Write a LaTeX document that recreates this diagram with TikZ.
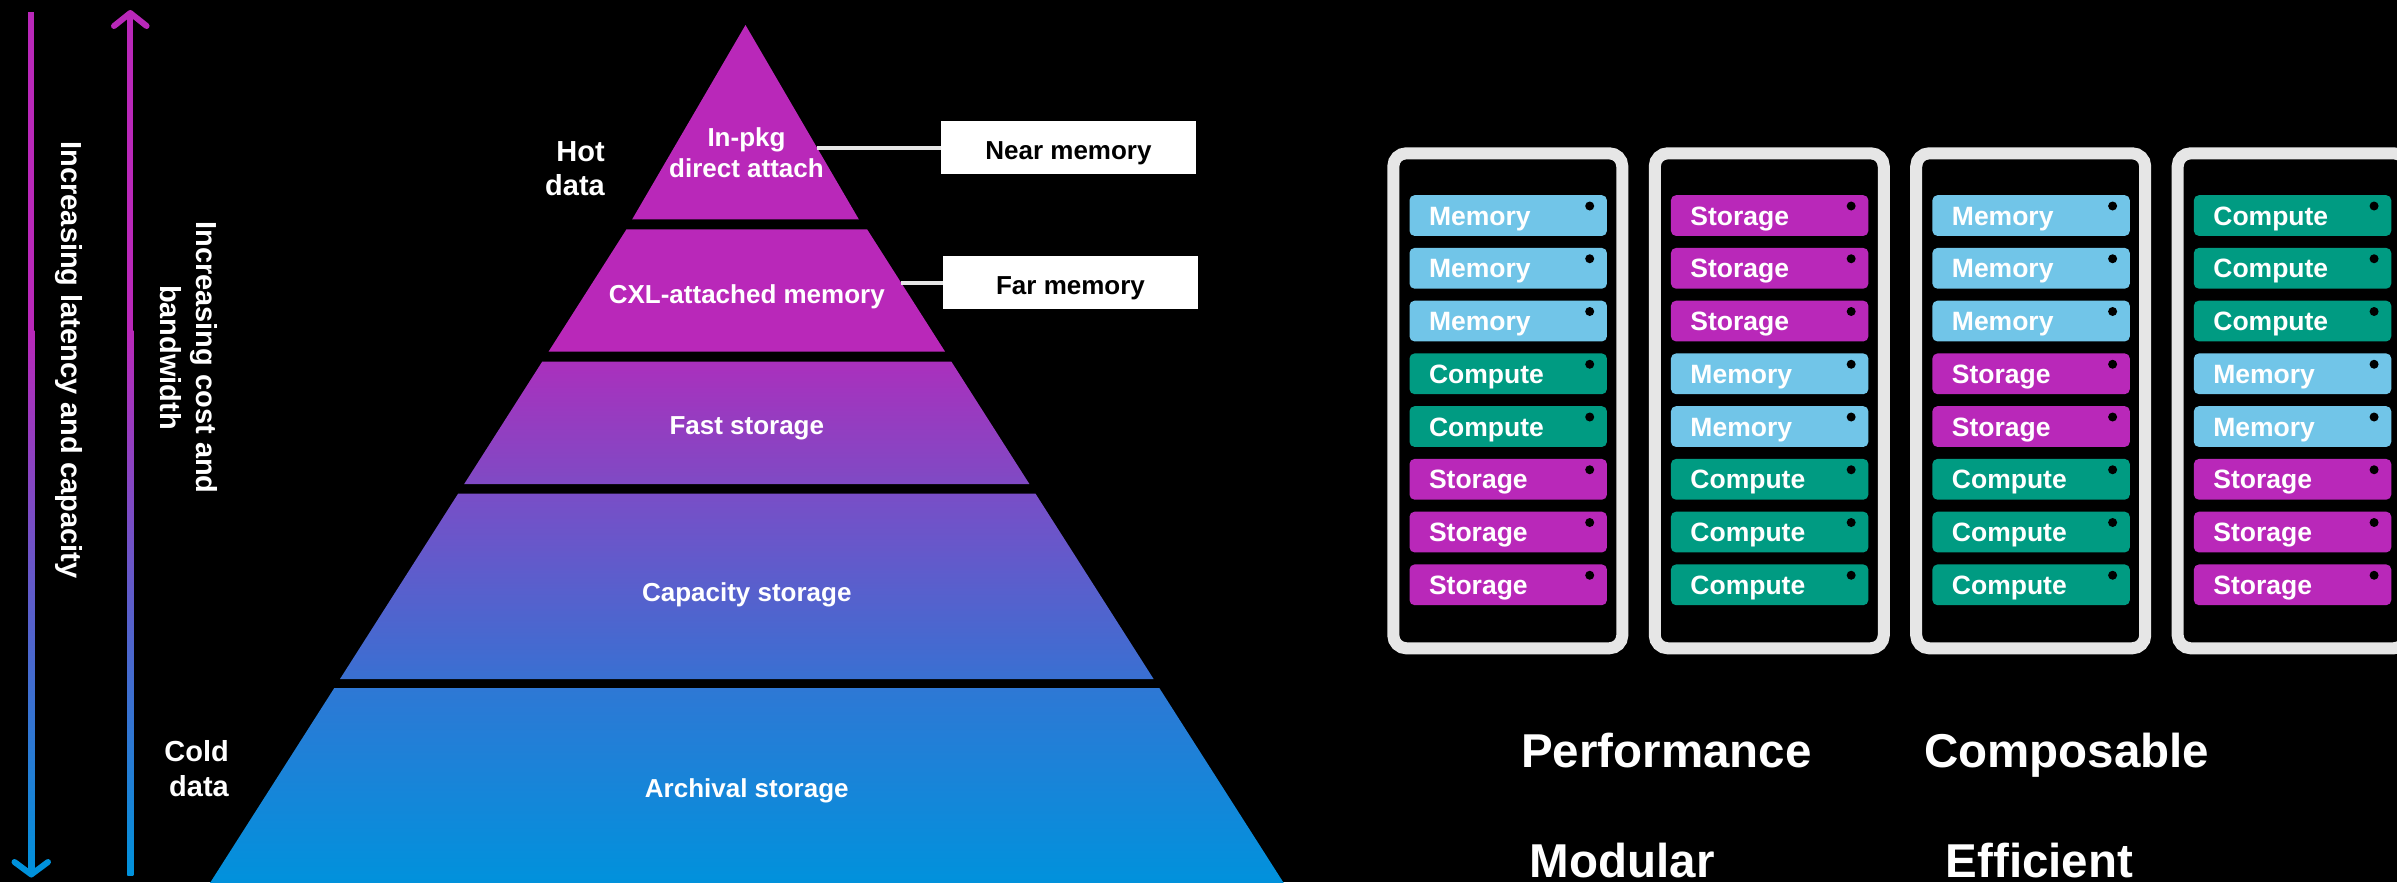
\documentclass[tikz,border=0pt]{standalone}
\usepackage{fontspec}
\setmainfont{Liberation Sans}
\usetikzlibrary{calc}
\definecolor{mag}{RGB}{185,40,185}
\definecolor{lblue}{RGB}{113,197,232}
\definecolor{compgreen}{RGB}{0,155,130}
\definecolor{blu}{RGB}{0,146,220}
\definecolor{rackgray}{RGB}{230,230,230}
\definecolor{tA}{RGB}{170,48,189}
\definecolor{tB}{RGB}{127,74,196}
\definecolor{tC}{RGB}{121,78,199}
\definecolor{tD}{RGB}{57,112,210}
\definecolor{tE}{RGB}{46,120,213}
\definecolor{tF}{RGB}{0,146,220}
\newcommand\myfs[2]{\fontsize{#1bp}{#2bp}\selectfont\bfseries}
\newcommand\txtM{Memory}
\newcommand\txtC{Compute}
\newcommand\txtS{Storage}
\begin{document}
\begin{tikzpicture}[x=1bp,y=-1bp,
  arrowhead/.style={line width=6bp,line cap=round,line join=round},
  tierlabel/.style={text=white,font=\myfs{26}{31.3},inner sep=0pt,align=center},
  sidelabel/.style={text=white,font=\myfs{29}{34.5},inner sep=0pt,align=right,anchor=north east},
  vertlabel/.style={text=white,font=\myfs{29}{36},inner sep=0pt,align=center,rotate=-90},
  memlabel/.style={fill=white,text=black,minimum width=255bp,minimum height=53bp,inner sep=0pt,
    text height=26bp,text depth=2bp,font=\myfs{26}{30}},
  conn/.style={draw=rackgray,line width=4bp},
  rackframe/.style={draw=rackgray,line width=12bp,rounded corners=13bp},
  slotbox/.style={rounded corners=5bp,minimum height=40.7bp,inner xsep=19.5bp,inner ysep=0pt,
    text height=19bp,text depth=0bp,anchor=north west,text=white,font=\myfs{26.5}{30}},
  slotM/.style={slotbox,fill=lblue},
  slotC/.style={slotbox,fill=compgreen},
  slotS/.style={slotbox,fill=mag},
  biglabel/.style={text=white,font=\myfs{47.5}{50},inner sep=0pt,anchor=base west}]
\useasboundingbox (0,0) rectangle (2397,882);
\fill[black] (0,0) rectangle (2397,882);

% ---- left scale arrows
\coordinate (latTop) at (31.3,11.7);
\coordinate (latBot) at (31.3,874.5);
\fill[mag] (28.3,11.7) rectangle (34.3,331);
\shade[top color=mag,bottom color=blu] (28.3,330) rectangle (34.3,874);
\draw[arrowhead,blu] (14.5,862) -- (latBot) -- (48,862);

\coordinate (costTop) at (130.3,13);
\coordinate (costBot) at (130.3,875);
\fill[mag] (127.3,14) rectangle (133.3,331);
\shade[top color=mag,bottom color=blu] (127.3,330) rectangle (133.3,875);
\draw[arrowhead,mag] (114,26) -- (costTop) -- (146.6,26);

\node[vertlabel] (lat) at (68.5,360) {Increasing latency and capacity};
\node[vertlabel] (cost) at (188.5,357.5) {Increasing cost and\\bandwidth};

% ---- pyramid
\fill[mag] (745.5,25) -- (858.8,219.3) -- (632.2,219.3) -- cycle;
\fill[mag] (626.5,229.3) -- (867.1,229.3) -- (945.1,351.7) -- (548.5,351.7) -- cycle;
\shade[top color=tA,bottom color=tB] (542.3,361.5) -- (951.3,361.5) -- (1029.4,484) -- (464.2,484) -- cycle;
\shade[top color=tC,bottom color=tD] (458.2,493.5) -- (1035.4,493.5) -- (1153.6,679) -- (340,679) -- cycle;
\shade[top color=tE,bottom color=tF] (334.3,688) -- (1159.3,688) -- (1285,885) -- (208.7,885) -- cycle;

\node[tierlabel,anchor=north] (t1) at (746.5,127) {In-pkg\\direct attach};
\node[tierlabel,anchor=base] (t2) at (746.8,303) {CXL-attached memory};
\node[tierlabel,anchor=base] (t3) at (746.8,434) {Fast storage};
\node[tierlabel,anchor=base] (t4) at (746.8,601) {Capacity storage};
\node[tierlabel,anchor=base] (t5) at (746.8,797) {Archival storage};

\node[sidelabel] (hot) at (605,141) {Hot\\data};
\node[sidelabel] (cold) at (229,740.5) {Cold\\data};

% ---- near / far memory
\node[memlabel] (near) at (1068.5,147.5) {Near memory};
\node[memlabel] (far) at (1070.5,282.5) {Far memory};
\coordinate (nearA) at (817,147.5);
\coordinate (farA) at (901,282.5);
\draw[conn] (nearA) -- (near.west);
\draw[conn] (farA) -- (far.west);

% ---- racks
\foreach \i/\lst in {0/{M,M,M,C,C,S,S,S},1/{S,S,S,M,M,C,C,C},2/{M,M,M,S,S,C,C,C},3/{C,C,C,M,M,S,S,S}}{
  \pgfmathsetmacro\rx{1387.3+261.45*\i}
  \draw[rackframe] (\rx+6,153.3) rectangle (\rx+235,648.3);
  \foreach \typ [count=\k from 0] in \lst {
    \pgfmathsetmacro\sy{195+52.75*\k}
    \node[slot\typ] (r\i-s\k) at (\rx+22,\sy) {\makebox[158.4bp][l]{\csname txt\typ\endcsname}};
    \fill[black] ($(r\i-s\k.north east)+(-17.4,11)$) circle[radius=4.5bp];
  }
}

% ---- bottom words
\node[biglabel] (perf) at (1521,767.5) {Performance};
\node[biglabel] (comp) at (1924,767.5) {Composable};
\node[biglabel] (mod) at (1529.6,877) {Modular};
\node[biglabel] (eff) at (1945.5,877) {Efficient};
\end{tikzpicture}
\end{document}
